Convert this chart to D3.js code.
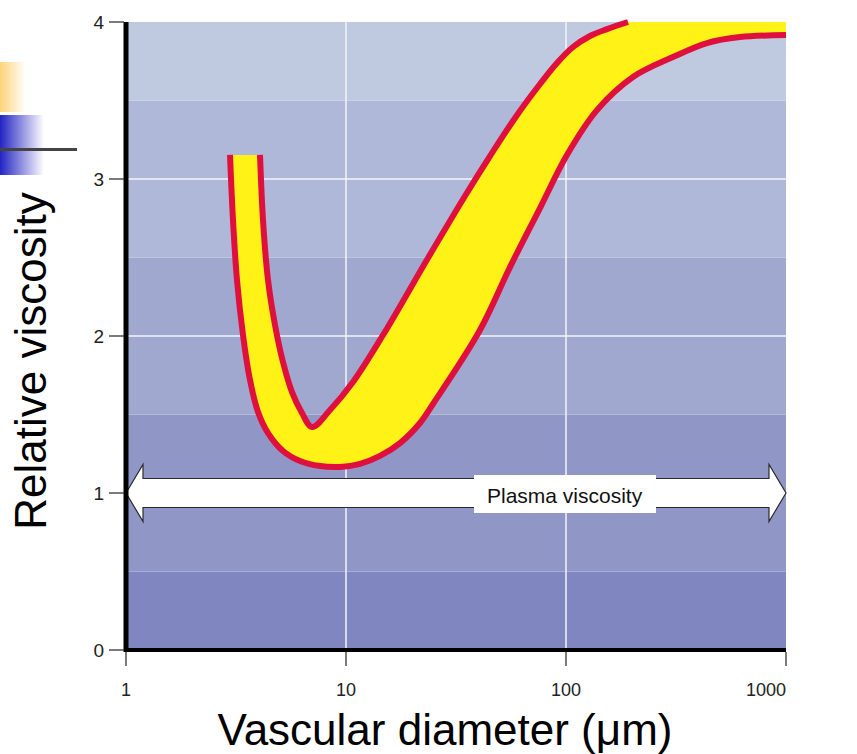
<!DOCTYPE html>
<html>
<head>
<meta charset="utf-8">
<script src="https://cdn.jsdelivr.net/npm/d3@7"></script>
<style>
  html, body { margin: 0; padding: 0; background: #ffffff; }
  svg { display: block; }
</style>
</head>
<body>
<svg id="chart" width="857" height="754"></svg>
<script>
// ---------------- data ----------------
const xTickValues = [1, 10, 100, 1000];
const xTickLabels = ["1", "10", "100", "1000"];
const yTickValues = [0, 1, 2, 3, 4];
const yTickLabels = ["0", "1", "2", "3", "4"];
const gridX = [10, 100];
const gridY = [1, 2, 3];
const bandEdges = [0, 0.5, 1.5, 2.5, 3.5, 4];

// inner boundary of the viscosity band (right edge of the descending limb, upper edge of the rising limb)
const innerDiameter = [4.066, 4.195, 4.421, 4.757, 5.171, 5.683, 6.310, 7.007, 8.459, 10.76, 14.73, 23.59, 34.75, 45.13, 58.66, 76.18, 91.02, 107.6, 128.6, 153.6, 191.3];
const innerViscosity = [3.153, 2.739, 2.357, 2.070, 1.834, 1.643, 1.510, 1.420, 1.529, 1.707, 2.006, 2.497, 2.892, 3.146, 3.389, 3.605, 3.739, 3.841, 3.911, 3.955, 4.0];

// outer boundary (left edge of the descending limb, lower edge of the rising limb)
const outerDiameter = [2.970, 3.064, 3.195, 3.403, 3.661, 3.981, 4.421, 5.171, 6.180, 7.617, 9.392, 11.58, 14.27, 17.60, 21.70, 24.86, 40.66, 55.66, 76.18, 101.0, 138.3, 201.6, 306.4, 437.4, 617.9, 1000];
const outerViscosity = [3.153, 2.739, 2.357, 2.006, 1.720, 1.516, 1.382, 1.268, 1.204, 1.172, 1.166, 1.185, 1.236, 1.318, 1.446, 1.567, 2.038, 2.439, 2.815, 3.153, 3.439, 3.650, 3.777, 3.866, 3.904, 3.917];

const plasmaViscosity = 1;
const plasmaLabel = "Plasma viscosity";
const xTitle = "Vascular diameter (\u03bcm)";
const yTitle = "Relative viscosity";

// ---------------- styles ----------------
const bandColors = ["#8086bf", "#9097c7", "#a0a8d0", "#afb8d8", "#bfc9e0"];
const yellow = "#fff217";
const red = "#e0103e";
const font = "'Liberation Sans', Arial, sans-serif";

// ---------------- layout ----------------
const svg = d3.select("#chart");
const x = d3.scaleLog().domain([1, 1000]).range([126, 786]);
const y = d3.scaleLinear().domain([0, 4]).range([650, 22]);

// decoration (slide bullets, top-left)
const defs = svg.append("defs");
const gOr = defs.append("linearGradient").attr("id", "gOrange");
gOr.append("stop").attr("offset", "0%").attr("stop-color", "#fdd27a");
gOr.append("stop").attr("offset", "100%").attr("stop-color", "#ffffff");
const gBl = defs.append("linearGradient").attr("id", "gBlue");
gBl.append("stop").attr("offset", "0%").attr("stop-color", "#2424c4");
gBl.append("stop").attr("offset", "100%").attr("stop-color", "#ffffff");
svg.append("rect").attr("x", 0).attr("y", 62).attr("width", 26).attr("height", 50).attr("fill", "url(#gOrange)");
svg.append("rect").attr("x", 0).attr("y", 115).attr("width", 44).attr("height", 60).attr("fill", "url(#gBlue)");
svg.append("rect").attr("x", 0).attr("y", 148).attr("width", 77).attr("height", 3).attr("fill", "#444444");

// clip to plot area
defs.append("clipPath").attr("id", "plotClip")
  .append("rect").attr("x", x(1)).attr("y", y(4)).attr("width", x(1000) - x(1)).attr("height", y(0) - y(4));

// background bands
const bands = d3.pairs(bandEdges);
svg.append("g").selectAll("rect").data(bands).join("rect")
  .attr("x", x(1)).attr("width", x(1000) - x(1))
  .attr("y", d => y(d[1])).attr("height", d => y(d[0]) - y(d[1]))
  .attr("fill", (d, i) => bandColors[i]);

// grid lines
svg.append("g").selectAll("line").data(gridX).join("line")
  .attr("x1", d => x(d)).attr("x2", d => x(d)).attr("y1", y(4)).attr("y2", y(0))
  .attr("stroke", "#f4f4fa").attr("stroke-width", 1.5);
svg.append("g").selectAll("line").data(gridY).join("line")
  .attr("x1", x(1)).attr("x2", x(1000)).attr("y1", d => y(d)).attr("y2", d => y(d))
  .attr("stroke", "#f4f4fa").attr("stroke-width", 1.5);

// viscosity band
const inner = innerDiameter.map((d, i) => [d, innerViscosity[i]]);
const outer = outerDiameter.map((d, i) => [d, outerViscosity[i]]);
const line = d3.line().x(d => x(d[0])).y(d => y(d[1])).curve(d3.curveCatmullRom.alpha(0.5));

const gBand = svg.append("g").attr("clip-path", "url(#plotClip)");
const outerPath = line(outer);
const innerPath = line(inner.slice().reverse());
gBand.append("path")
  .attr("d", outerPath + "L" + x(1000) + "," + y(4) + "L" + x(inner[inner.length - 1][0]) + "," + y(4) + innerPath.replace(/^M/, "L") + "Z")
  .attr("fill", yellow);

svg.append("g").selectAll("path").data([outer, inner]).join("path")
  .attr("d", line)
  .attr("fill", "none").attr("stroke", red).attr("stroke-width", 6)
  .attr("stroke-linejoin", "round").attr("stroke-linecap", "butt");

// plasma viscosity arrow
const ay = y(plasmaViscosity);
const ax0 = x(1), ax1 = x(1000);
const shaft = 14.5, head = 28.5, headLen = 17;
const arrowPts = [
  [ax0, ay], [ax0 + headLen, ay - head], [ax0 + headLen, ay - shaft],
  [ax1 - headLen, ay - shaft], [ax1 - headLen, ay - head], [ax1, ay],
  [ax1 - headLen, ay + head], [ax1 - headLen, ay + shaft],
  [ax0 + headLen, ay + shaft], [ax0 + headLen, ay + head]
];
svg.append("path").attr("d", "M" + arrowPts.map(p => p.join(",")).join("L") + "Z")
  .attr("fill", "#ffffff").attr("stroke", "#2a2a2a").attr("stroke-width", 1.2);
svg.append("rect").attr("x", 474).attr("y", ay - 18).attr("width", 182).attr("height", 38).attr("fill", "#ffffff");
svg.append("text").attr("x", 487).attr("y", ay + 10)
  .attr("font-family", font).attr("font-size", 21).attr("fill", "#111")
  .text(plasmaLabel);

// axes lines
svg.append("line").attr("x1", x(1)).attr("x2", x(1)).attr("y1", y(4)).attr("y2", y(0) + 2)
  .attr("stroke", "#000").attr("stroke-width", 5);
svg.append("line").attr("x1", x(1) - 2).attr("x2", x(1000)).attr("y1", y(0)).attr("y2", y(0))
  .attr("stroke", "#000").attr("stroke-width", 4);

// ticks
svg.append("g").selectAll("line").data(yTickValues).join("line")
  .attr("x1", 109).attr("x2", x(1) - 2).attr("y1", d => y(d)).attr("y2", d => y(d))
  .attr("stroke", "#333").attr("stroke-width", 1.3);
svg.append("g").selectAll("text").data(yTickValues).join("text")
  .attr("x", 104).attr("y", d => y(d) + 6.5).attr("text-anchor", "end")
  .attr("font-family", font).attr("font-size", 19).attr("fill", "#222")
  .text((d, i) => yTickLabels[i]);

svg.append("g").selectAll("line").data(xTickValues).join("line")
  .attr("x1", d => x(d)).attr("x2", d => x(d)).attr("y1", y(0) + 2).attr("y2", 666)
  .attr("stroke", "#333").attr("stroke-width", 1.3);
svg.append("g").selectAll("text").data(xTickValues).join("text")
  .attr("x", d => x(d))
  .attr("y", 696)
  .attr("text-anchor", (d, i) => i === xTickValues.length - 1 ? "end" : "middle")
  .attr("font-family", font).attr("font-size", 18).attr("fill", "#222")
  .text((d, i) => xTickLabels[i]);

// titles
svg.append("text").attr("x", 445).attr("y", 745).attr("text-anchor", "middle")
  .attr("font-family", font).attr("font-size", 44).attr("fill", "#000")
  .text(xTitle);
svg.append("text").attr("transform", "translate(46,361) rotate(-90)").attr("text-anchor", "middle")
  .attr("font-family", font).attr("font-size", 44).attr("fill", "#000")
  .text(yTitle);
</script>
</body>
</html>
